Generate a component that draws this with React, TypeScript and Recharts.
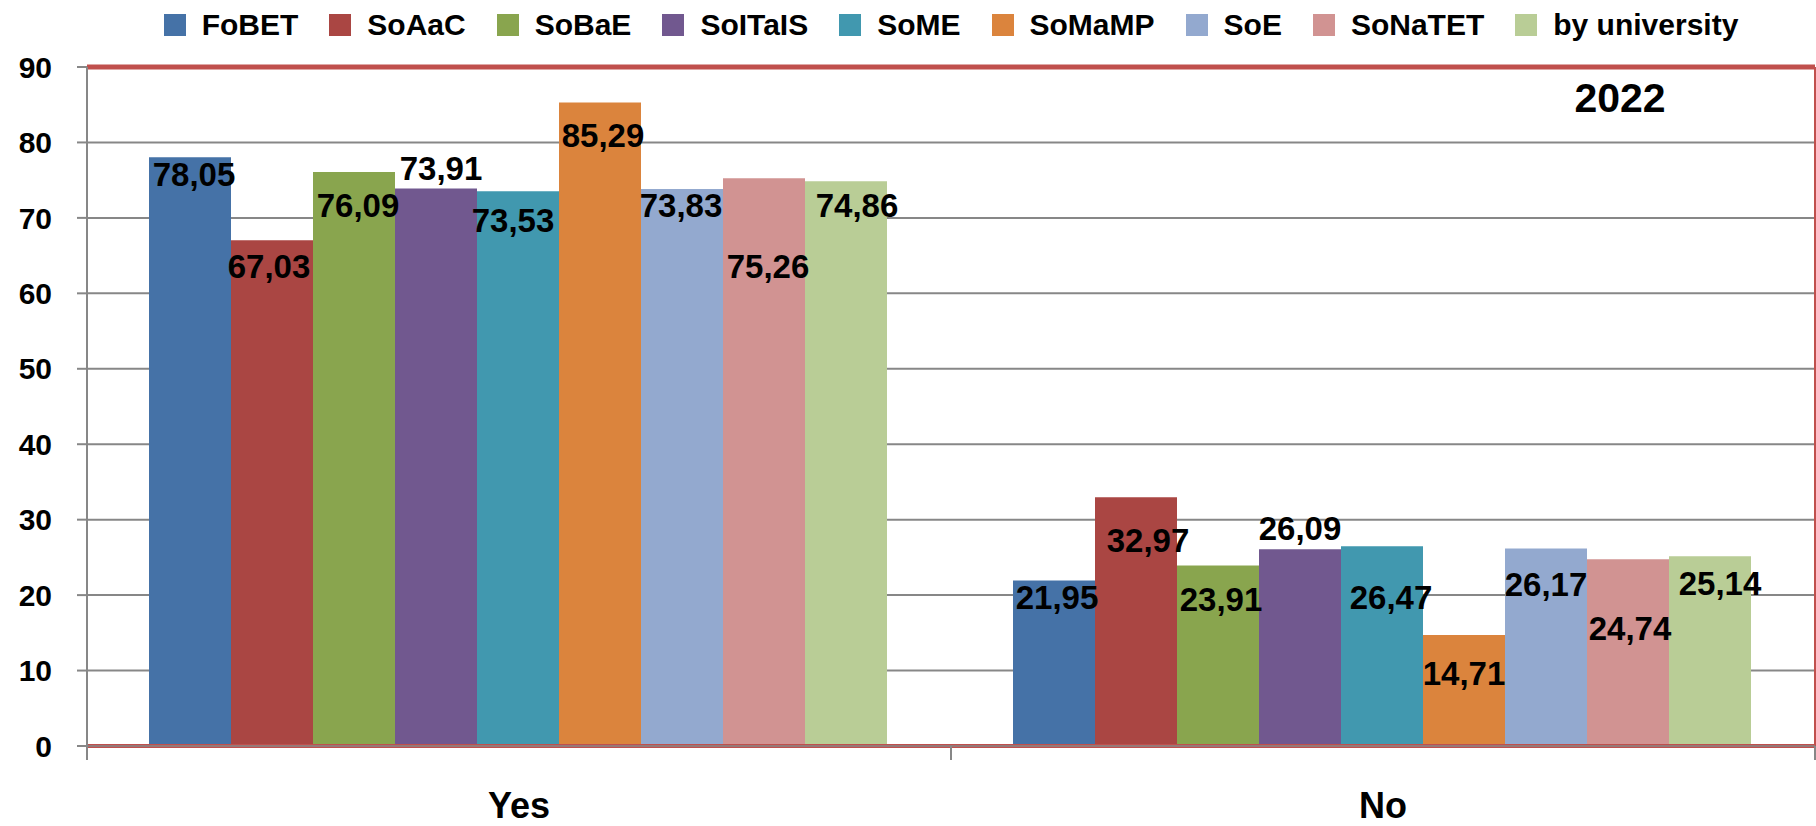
import React from 'react';
import {
  BarChart,
  Bar,
  XAxis,
  YAxis,
  CartesianGrid,
  Legend,
  LabelList,
  ReferenceLine,
  Customized,
} from 'recharts';

// ---------- data ----------
const categories = ['Yes', 'No'];
const seriesNames = ['FoBET', 'SoAaC', 'SoBaE', 'SoITaIS', 'SoME', 'SoMaMP', 'SoE', 'SoNaTET', 'by university'];
const fobet = [78.05, 21.95];
const soaac = [67.03, 32.97];
const sobae = [76.09, 23.91];
const soitais = [73.91, 26.09];
const some = [73.53, 26.47];
const somamp = [85.29, 14.71];
const soe = [73.83, 26.17];
const sonatet = [75.26, 24.74];
const byUniversity = [74.86, 25.14];
const yTicks = [0, 10, 20, 30, 40, 50, 60, 70, 80, 90];
const yearLabel = '2022';

// ---------- styles / layout ----------
const FONT = '"Liberation Sans", Arial, sans-serif';
const colors = ['#4572A7', '#AA4643', '#89A54E', '#71588F', '#4198AF', '#DB843D', '#93A9CF', '#D19392', '#B9CD96'];
const GRID = '#878787';
const FRAME = '#C0504D';
const TICK_BELOW = -1.86; // how far (in axis units) the category boundary ticks reach below zero
// label offsets (px) from the bar's top-centre to the label centre: [dx, dy] per category
const labelOffsets: number[][][] = [
  [[4, 17], [3, 17]],
  [[-3, 26], [12, 43]],
  [[4, 33], [3, 33]],
  [[5, -20], [0, -21]],
  [[-5, 29], [9, 51]],
  [[3, 32], [0, 38]],
  [[-1, 16], [0, 35]],
  [[4, 88], [2, 69]],
  [[11, 24], [10, 27]],
];

const seriesValues = [fobet, soaac, sobae, soitais, some, somamp, soe, sonatet, byUniversity];
const data = categories.map((name, ci) => {
  const row: Record<string, any> = { name };
  seriesValues.forEach((vals, si) => {
    row['s' + si] = vals[ci];
  });
  return row;
});

const fmt = (v: number) => Number(v).toFixed(2).replace('.', ',');

const makeLabel = (si: number) => (props: any) => {
  const { x, y, width, value, index } = props;
  const off = labelOffsets[si][index] || [0, 0];
  const cx = Number(x) + Number(width) / 2 + off[0];
  const cy = Number(y) + off[1];
  return (
    <text
      x={cx}
      y={cy + 12}
      textAnchor="middle"
      fontFamily={FONT}
      fontWeight="bold"
      fontSize={33}
      fill="#000"
    >
      {fmt(value)}
    </text>
  );
};

const renderLegend = () => (
  <div
    style={{
      display: 'flex',
      justifyContent: 'center',
      alignItems: 'center',
      height: 50,
      width: 1816,
      paddingLeft: 86,
      boxSizing: 'border-box',
      fontFamily: FONT,
      fontWeight: 'bold',
      fontSize: 30,
      lineHeight: '30px',
      color: '#000',
    }}
  >
    {seriesNames.map((n, i) => (
      <div
        key={n}
        style={{ display: 'flex', alignItems: 'center', marginRight: i < seriesNames.length - 1 ? 31 : 0 }}
      >
        <span style={{ display: 'inline-block', width: 22, height: 22, background: colors[i], marginRight: 16 }} />
        <span style={{ whiteSpace: 'nowrap' }}>{n}</span>
      </div>
    ))}
  </div>
);

const YearText = () => (
  <text x={1620} y={112} textAnchor="middle" fontFamily={FONT} fontWeight="bold" fontSize={41} fill="#000">
    {yearLabel}
  </text>
);

export default function App() {
  const first = categories[0];
  const last = categories[categories.length - 1];
  return (
    <div style={{ position: 'absolute', left: 0, top: 0, width: 1816, height: 826, background: '#fff' }}>
      <BarChart
        width={1816}
        height={826}
        data={data}
        margin={{ top: 67, right: 1, left: 0, bottom: 0 }}
        barCategoryGap={62}
        barGap={0}
      >
        <CartesianGrid vertical={false} stroke={GRID} strokeWidth={2} />
        <XAxis
          dataKey="name"
          height={80}
          tickLine={false}
          tickSize={0}
          tickMargin={46}
          axisLine={{ stroke: GRID, strokeWidth: 1.5 }}
          tick={{ fontSize: 36, fontWeight: 'bold', fill: '#000', fontFamily: FONT }}
          interval={0}
        />
        <YAxis
          domain={[0, 90]}
          ticks={yTicks}
          interval={0}
          width={87}
          tickSize={10}
          tickMargin={25}
          axisLine={{ stroke: GRID, strokeWidth: 2 }}
          tickLine={{ stroke: GRID, strokeWidth: 2 }}
          tick={{ fontSize: 30, fontWeight: 'bold', fill: '#000', fontFamily: FONT }}
        />
        <Legend
          verticalAlign="top"
          align="left"
          wrapperStyle={{ top: 0, left: 0, width: 1816, height: 0, overflow: 'visible' }}
          content={renderLegend}
        />
        {seriesNames.map((n, si) => (
          <Bar key={n} dataKey={'s' + si} name={n} fill={colors[si]} isAnimationActive={false}>
            <LabelList dataKey={'s' + si} content={makeLabel(si)} />
          </Bar>
        ))}
        {/* plot-area frame */}
        <ReferenceLine y={90} stroke={FRAME} strokeWidth={5} />
        <ReferenceLine x={first} position="start" stroke={FRAME} strokeWidth={2} />
        <ReferenceLine x={last} position="end" stroke={FRAME} strokeWidth={2} />
        <ReferenceLine y={0} stroke={FRAME} strokeWidth={4} />
        {/* category boundary tick marks below the axis */}
        {categories.map((c) => (
          <ReferenceLine
            key={'t' + c}
            position="start"
            ifOverflow="visible"
            segment={[{ x: c, y: 0 }, { x: c, y: TICK_BELOW }]}
            stroke={GRID}
            strokeWidth={2}
          />
        ))}
        <ReferenceLine
          position="end"
          ifOverflow="visible"
          segment={[{ x: last, y: 0 }, { x: last, y: TICK_BELOW }]}
          stroke={GRID}
          strokeWidth={2}
        />
        <Customized component={YearText} />
      </BarChart>
    </div>
  );
}
